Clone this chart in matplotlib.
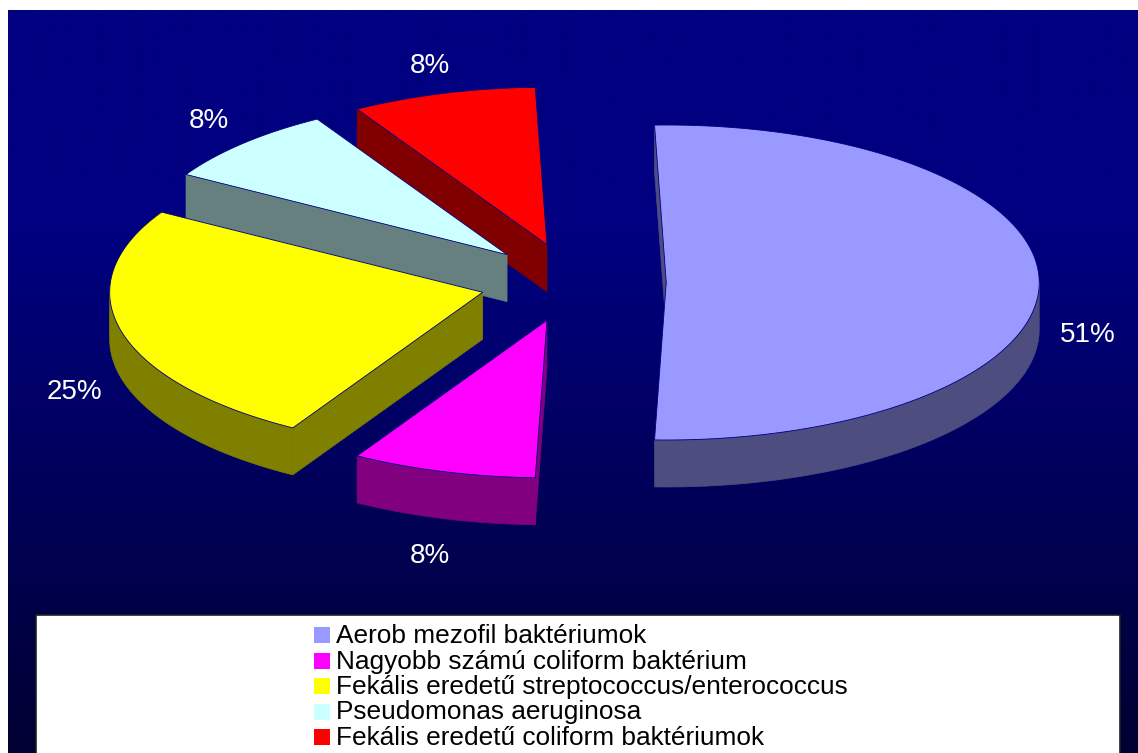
import numpy as np
import matplotlib
matplotlib.use("Agg")
import matplotlib.pyplot as plt
from matplotlib.patches import Polygon, Rectangle

plt.rcParams["font.family"] = ["Liberation Sans", "DejaVu Sans"]

# ---- data -------------------------------------------------------------
categories = [
    "Aerob mezofil baktériumok",
    "Nagyobb számú coliform baktérium",
    "Fekális eredetű streptococcus/enterococcus",
    "Pseudomonas aeruginosa",
    "Fekális eredetű coliform baktériumok",
]
shares = [51, 8, 25, 8, 8]
top_colors = ["#9999FF", "#FF00FF", "#FFFF00", "#CCFFFF", "#FF0000"]
side_colors = ["#4D4D80", "#800080", "#808000", "#668080", "#800000"]

# ---- canvas -----------------------------------------------------------
W, H = 1138, 753
fig = plt.figure(figsize=(W / 100, H / 100), dpi=100)
fig.patch.set_facecolor("white")
ax = fig.add_axes([0, 0, 1, 1])
ax.set_xlim(0, W)
ax.set_ylim(H, 0)
ax.axis("off")

# navy background fading darker toward the bottom
n = 400
f = np.linspace(0, 1, n)
blue = np.where(f < 0.3, 128, 128 - (f - 0.3) / 0.7 * 78) / 255.0
grad = np.zeros((n, 1, 3))
grad[:, 0, 2] = blue
ax.imshow(grad, extent=(8, W, H, 10), aspect="auto", zorder=0, interpolation="bilinear")

# ---- 3-D exploded pie ---------------------------------------------------
cx, cy = 573.0, 282.5      # pie centre (px)
R, r = 373.0, 157.5        # ellipse radii of the top face
depth = 47.0               # thickness of the pie
explode = 0.25             # radial offset, fraction of radius
edge = "#000080"

def rim(ox, oy, t_deg, dz=0.0):
    t = np.radians(t_deg)
    return ox + R * np.cos(t), oy - r * np.sin(t) + dz

total = float(sum(shares))
start = shares[0] / total * 180.0   # first slice centred on the right
slices = []
a = start
for i, v in enumerate(shares):
    span = v / total * 360.0
    hi, lo = a, a - span
    a = lo
    mid = 0.5 * (hi + lo)
    ox = cx + explode * R * np.cos(np.radians(mid))
    oy = cy - explode * r * np.sin(np.radians(mid))
    slices.append(dict(i=i, lo=lo, hi=hi, mid=mid, ox=ox, oy=oy))

# draw back slices first
order = sorted(slices, key=lambda s: -np.sin(np.radians(s["mid"])))
z = 2
for s in order:
    i, lo, hi, ox, oy = s["i"], s["lo"], s["hi"], s["ox"], s["oy"]
    # curved front wall
    for k in (-1, 0, 1):
        a0 = max(lo, 180 + 360 * k)
        a1 = min(hi, 360 + 360 * k)
        if a1 > a0:
            ts = np.linspace(a0, a1, 80)
            top = [rim(ox, oy, t) for t in ts]
            bot = [rim(ox, oy, t, depth) for t in ts[::-1]]
            ax.add_patch(Polygon(top + bot, closed=True, facecolor=side_colors[i],
                                 edgecolor=side_colors[i], lw=0.5, zorder=z))
    # radial walls that face the viewer
    for ang, normal in ((hi, hi + 90), (lo, lo - 90)):
        if np.sin(np.radians(normal)) < 0:
            p = rim(ox, oy, ang)
            poly = [(ox, oy), p, (p[0], p[1] + depth), (ox, oy + depth)]
            ax.add_patch(Polygon(poly, closed=True, facecolor=side_colors[i],
                                 edgecolor=side_colors[i], lw=0.5, zorder=z))
    # top face
    ts = np.linspace(lo, hi, 160)
    face = [(ox, oy)] + [rim(ox, oy, t) for t in ts]
    ax.add_patch(Polygon(face, closed=True, facecolor=top_colors[i],
                         edgecolor=edge, lw=0.6, zorder=z + 0.5))
    z += 1

# percentage labels outside each slice
for s in slices:
    m = np.radians(s["mid"])
    sm = np.sin(m)
    lx = s["ox"] + 1.13 * R * np.cos(m)
    ly = s["oy"] - 1.13 * r * sm
    ly += (52 - 13 * sm) if sm < 0.5 else -8
    ax.text(lx, ly, f"{shares[s['i']]}%", color="white", fontsize=20,
            ha="center", va="center", zorder=20)

# ---- legend -------------------------------------------------------------
ax.add_patch(Rectangle((36, 615), 1084, 160, facecolor="white",
                       edgecolor="#202020", lw=1.2, zorder=30))
row = 25.5
for k, (lab, col) in enumerate(zip(categories, top_colors)):
    y0 = 627 + k * row
    ax.add_patch(Rectangle((314, y0), 16, 16, facecolor=col, edgecolor="none", zorder=31))
    ax.text(336, y0 + 16, lab, fontsize=18.9, color="black", ha="left",
            va="baseline", zorder=31)

fig.savefig("out.png", dpi=100)
